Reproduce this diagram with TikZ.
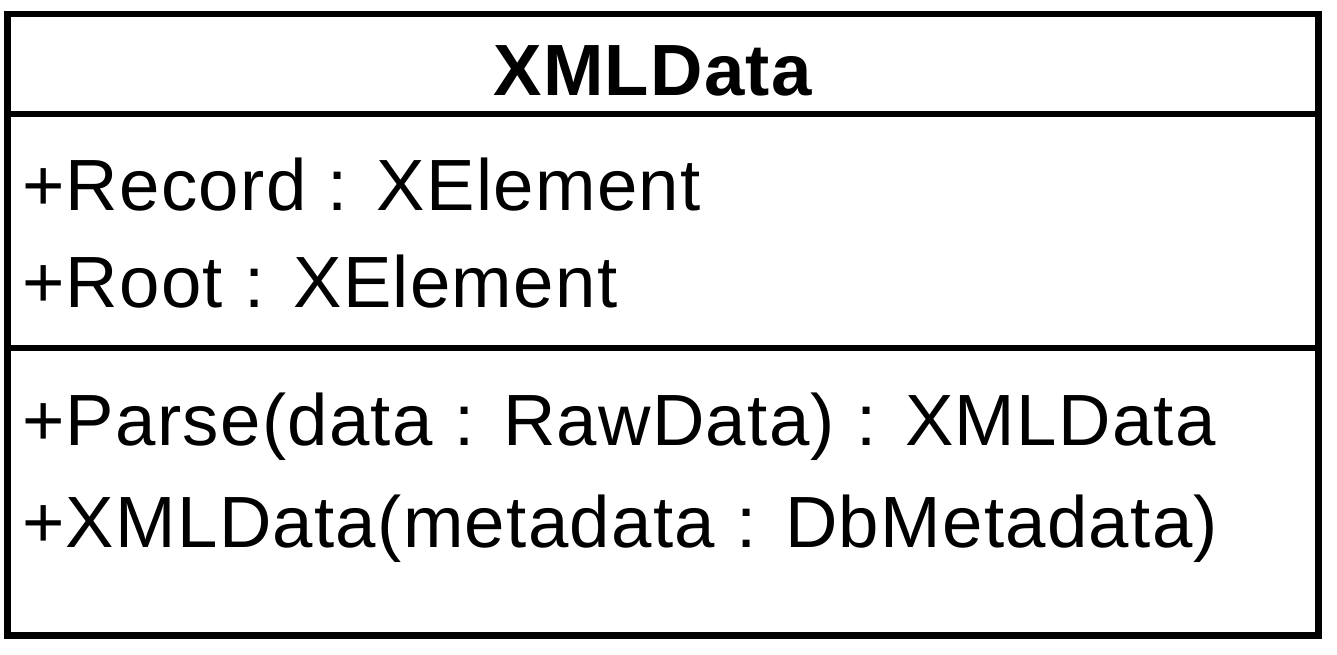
\documentclass[tikz,border=0pt]{standalone}
\usepackage{fontspec}
\setmainfont{Liberation Sans}[LetterSpace=1.8]
\begin{document}
\begin{tikzpicture}[x=1pt,y=-1pt,
  frame/.style={line width=6.5pt},
  member/.style={anchor=base west, inner sep=0pt, font=\fontsize{72.6}{80}\selectfont},
  classname/.style={anchor=base, inner sep=0pt, font=\fontsize{72.6}{80}\selectfont\bfseries}]
  \useasboundingbox (0,0) rectangle (1337,654);
  % class frame and compartment dividers
  \draw[frame] (7.5,14) rectangle (1318.5,635.5);
  \draw[frame] (7.5,114) -- (1318.5,114);
  \draw[frame] (7.5,348) -- (1318.5,348);
  % class name
  \node[classname] (name) at (652.5,95) {XMLData};
  % attributes
  \node[member] (a1) at (22,210) {+Record : XElement};
  \node[member] (a2) at (22,307) {+Root : XElement};
  % operations
  \node[member] (o1) at (22,445) {+Parse(data : RawData) : XMLData};
  \node[member] (o2) at (22,547) {+XMLData(metadata : DbMetadata)};
\end{tikzpicture}
\end{document}
